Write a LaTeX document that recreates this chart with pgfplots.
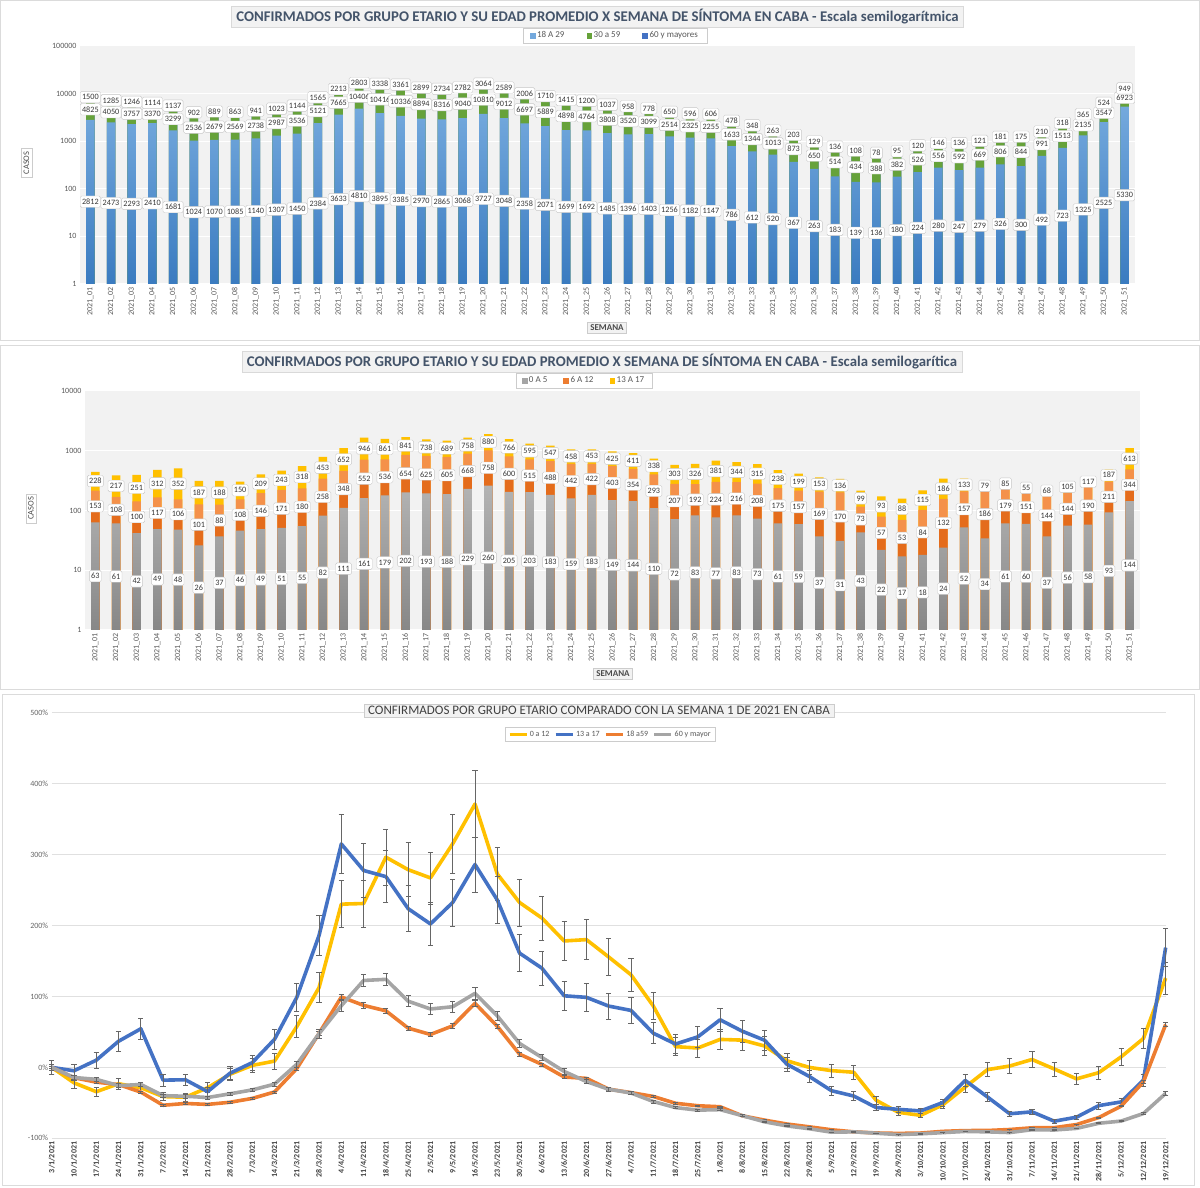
\documentclass[border=0pt]{standalone}
\usepackage{fontspec}
\setmainfont{Carlito}
\usepackage{pgfplots}
\usepackage{pgfplotstable}
\pgfplotsset{compat=1.18}

\definecolor{azulT}{HTML}{74A9DD}
\definecolor{azulB}{HTML}{3A7BC0}
\definecolor{verde}{HTML}{66A23A}
\definecolor{azul60}{HTML}{4472C4}
\definecolor{grisT}{HTML}{B3B3B3}
\definecolor{grisB}{HTML}{878787}
\definecolor{naranjaC}{HTML}{F4914A}
\definecolor{naranjaO}{HTML}{E46C1C}
\definecolor{amarillo}{HTML}{FFC000}
\definecolor{lazul}{HTML}{4472C4}
\definecolor{lnaranja}{HTML}{ED7D31}
\definecolor{lgris}{HTML}{A5A5A5}
\definecolor{titc}{HTML}{44546A}

% semanas 2021_01 ... 2021_51: 18 A 29, 30 a 59, 60 y mayores
\pgfplotstableread{
w a b c
1 2812 4825 1500
2 2473 4050 1285
3 2293 3757 1246
4 2410 3370 1114
5 1681 3299 1137
6 1024 2536 902
7 1070 2679 889
8 1085 2569 863
9 1140 2738 941
10 1307 2987 1023
11 1450 3536 1144
12 2384 5121 1565
13 3633 7665 2213
14 4810 10406 2803
15 3895 10416 3338
16 3385 10336 3361
17 2970 8894 2899
18 2865 8316 2734
19 3068 9040 2782
20 3727 10810 3064
21 3048 9012 2589
22 2358 6697 2006
23 2071 5889 1710
24 1699 4898 1415
25 1692 4764 1200
26 1485 3808 1037
27 1396 3520 958
28 1403 3099 778
29 1256 2514 650
30 1182 2325 596
31 1147 2255 606
32 786 1633 478
33 612 1344 348
34 520 1013 263
35 367 873 203
36 263 650 129
37 183 514 136
38 139 434 108
39 136 388 78
40 180 382 95
41 224 526 120
42 280 556 146
43 247 592 136
44 279 669 121
45 326 806 181
46 300 844 175
47 492 991 210
48 723 1513 318
49 1325 2135 365
50 2525 3547 524
51 5330 6923 949
}\tabA

% 0 A 5, 6 A 12, 13 A 17
\pgfplotstableread{
w d e f
1 63 153 228
2 61 108 217
3 42 100 251
4 49 117 312
5 48 106 352
6 26 101 187
7 37 88 188
8 46 108 150
9 49 146 209
10 51 171 243
11 55 180 318
12 82 258 453
13 111 348 652
14 161 552 946
15 179 536 861
16 202 654 841
17 193 625 738
18 188 605 689
19 229 668 758
20 260 758 880
21 205 600 766
22 203 515 595
23 183 488 547
24 159 442 458
25 183 422 453
26 149 403 425
27 144 354 411
28 110 293 338
29 72 207 303
30 83 192 326
31 77 224 381
32 83 216 344
33 73 208 315
34 61 175 238
35 59 157 199
36 37 169 153
37 31 170 136
38 43 73 99
39 22 57 93
40 17 53 88
41 18 84 115
42 24 132 186
43 52 157 133
44 34 186 79
45 61 179 85
46 60 151 55
47 37 144 68
48 56 144 105
49 58 190 117
50 93 211 187
51 144 344 613
}\tabB

% variacion % frente a la semana 1 y su error
\pgfplotstableread{
w Y eY B eB O eO G eG
1 0 10.0 0 10.0 0 2.0 0 4.0
2 -21.8 7.8 -4.8 9.5 -14.6 1.7 -14.3 3.4
3 -34.3 6.6 10.1 11.0 -20.8 1.6 -16.9 3.3
4 -23.1 7.7 36.8 13.7 -24.3 1.5 -25.7 3.0
5 -28.7 7.1 54.4 15.4 -34.8 1.3 -24.2 3.0
6 -41.2 5.9 -18.0 8.2 -53.4 0.9 -39.9 2.4
7 -42.1 5.8 -17.5 8.2 -50.9 1.0 -40.7 2.4
8 -28.7 7.1 -34.2 6.6 -52.2 1.0 -42.5 2.3
9 -9.7 9.0 -8.3 9.2 -49.2 1.0 -37.3 2.5
10 2.8 10.3 6.6 10.7 -43.8 1.1 -31.8 2.7
11 8.8 10.9 39.5 13.9 -34.7 1.3 -23.7 3.1
12 57.4 15.7 98.7 19.9 -1.7 2.0 4.3 4.2
13 112.5 21.3 186.0 28.6 47.9 3.0 47.5 5.9
14 230.1 33.0 314.9 41.5 99.2 4.0 86.9 7.5
15 231.0 33.1 277.6 37.8 87.4 3.7 122.5 8.9
16 296.3 39.6 268.9 36.9 79.7 3.6 124.1 9.0
17 278.7 37.9 223.7 32.4 55.3 3.1 93.3 7.7
18 267.1 36.7 202.2 30.2 46.4 2.9 82.3 7.3
19 315.3 41.5 232.5 33.2 58.5 3.2 85.5 7.4
20 371.3 47.1 286.0 38.6 90.3 3.8 104.3 8.2
21 272.7 37.3 236.0 33.6 57.9 3.2 72.6 6.9
22 232.4 33.2 161.0 26.1 18.6 2.4 33.7 5.3
23 210.6 31.1 139.9 24.0 4.2 2.1 14.0 4.6
24 178.2 27.8 100.9 20.1 -13.6 1.7 -5.7 3.8
25 180.1 28.0 98.7 19.9 -15.5 1.7 -20.0 3.2
26 155.6 25.6 86.4 18.6 -30.7 1.4 -30.9 2.8
27 130.6 23.1 80.3 18.0 -35.6 1.3 -36.1 2.6
28 86.6 18.7 48.2 14.8 -41.0 1.2 -48.1 2.1
29 29.2 12.9 32.9 13.3 -50.6 1.0 -56.7 1.7
30 27.3 12.7 43.0 14.3 -54.1 0.9 -60.3 1.6
31 39.4 13.9 67.1 16.7 -55.5 0.9 -59.6 1.6
32 38.4 13.8 50.9 15.1 -68.3 0.6 -68.1 1.3
33 30.1 13.0 38.2 13.8 -74.4 0.5 -76.8 0.9
34 9.3 10.9 4.4 10.4 -79.9 0.4 -82.5 0.7
35 0.0 10.0 -12.7 8.7 -83.8 0.3 -86.5 0.5
36 -4.6 9.5 -32.9 6.7 -88.0 0.2 -91.4 0.3
37 -6.9 9.3 -40.4 6.0 -90.9 0.2 -90.9 0.4
38 -46.3 5.4 -56.6 4.3 -92.5 0.2 -92.8 0.3
39 -63.4 3.7 -59.2 4.1 -93.1 0.1 -94.8 0.2
40 -67.6 3.2 -61.4 3.9 -92.6 0.1 -93.7 0.3
41 -52.8 4.7 -49.6 5.0 -90.2 0.2 -92.0 0.3
42 -27.8 7.2 -18.4 8.2 -89.1 0.2 -90.3 0.4
43 -3.2 9.7 -41.7 5.8 -89.0 0.2 -90.9 0.4
44 1.9 10.2 -65.4 3.5 -87.6 0.2 -91.9 0.3
45 11.1 11.1 -62.7 3.7 -85.2 0.3 -87.9 0.5
46 -2.3 9.8 -75.9 2.4 -85.0 0.3 -88.3 0.5
47 -16.2 8.4 -70.2 3.0 -80.6 0.4 -86.0 0.6
48 -7.4 9.3 -53.9 4.6 -70.7 0.6 -78.8 0.8
49 14.8 11.5 -48.7 5.1 -54.7 0.9 -75.7 1.0
50 40.7 14.1 -18.0 8.2 -20.5 1.6 -65.1 1.4
51 125.9 22.6 168.9 26.9 60.4 3.2 -36.7 2.5
}\tabC

\tikzset{etq/.style={fill=white, draw=black!22, rounded corners=1.5pt,
  inner xsep=1.8pt, inner ysep=0pt, minimum height=11.5pt, text=black!78,
  yshift=-5.75pt, font=\fontsize{8.2}{9}\selectfont}}

\begin{document}
\begin{tikzpicture}
\useasboundingbox (0,0) rectangle (1200pt,1187pt);

% marcos de los tres paneles
\draw[black!14, line width=1pt] (0.5pt,846pt) rectangle (1199.5pt,1186.5pt);
\draw[black!14, line width=1pt] (0.5pt,497pt) rectangle (1199.5pt,841pt);
\draw[black!14, line width=1pt] (2pt,2pt) rectangle (1194pt,492pt);

% ---------- panel 1 ----------
\begin{axis}[ymode=log, ymin=1, ymax=100000,
  anchor=south west, at={(80pt,903pt)}, scale only axis, width=1055pt, height=238pt,
  xmin=0.5, xmax=51.5, clip=false,
  xtick={1,...,51},
  xticklabel={2021\_\ifnum\ticknum<9 0\fi\the\numexpr\ticknum+1\relax},
  ytick={1,10,100,1000,10000,100000},
  yticklabels={1,10,100,1000,10000,100000},
  axis line style={draw=none}, major tick length=0pt, minor tick length=0pt,
  axis background/.style={fill=black!5},
  ymajorgrids, grid style={white, line width=1pt},
  tick label style={text=black!65, font=\fontsize{8}{9}\selectfont},
  xticklabel style={rotate=90, anchor=east},
  legend style={at={(0.507,1.044)}, anchor=center, draw=black!20, fill=white,
    font=\fontsize{9}{10}\selectfont, text=black!65, legend columns=-1,
    inner xsep=7pt, inner ysep=1.5pt,
    /tikz/every even column/.append style={column sep=20pt}},
  every node near coord/.append style={etq}]
\addplot[ybar, bar width=8.5pt, bar shift=0pt, draw=none, forget plot, fill=azul60]
  table[x=w, y expr=\thisrow{a}+\thisrow{b}+\thisrow{c}]{\tabA};
\addplot[ybar, bar width=8.5pt, bar shift=0pt, draw=none, forget plot, fill=verde]
  table[x=w, y expr=\thisrow{a}+\thisrow{b}]{\tabA};
\addplot[ybar, bar width=8.5pt, bar shift=0pt, draw=none, forget plot, top color=azulT, bottom color=azulB]
  table[x=w, y=a]{\tabA};
\addplot[forget plot, draw=none, mark=none, nodes near coords, point meta=explicit symbolic]
  table[x=w, y expr={sqrt(\thisrow{a})}, meta=a]{\tabA};
\addplot[forget plot, draw=none, mark=none, nodes near coords, point meta=explicit symbolic]
  table[x=w, y expr={sqrt(\thisrow{a}*(\thisrow{a}+\thisrow{b}))}, meta=b]{\tabA};
\addplot[forget plot, draw=none, mark=none, nodes near coords, point meta=explicit symbolic]
  table[x=w, y expr={sqrt((\thisrow{a}+\thisrow{b})*(\thisrow{a}+\thisrow{b}+\thisrow{c}))}, meta=c]{\tabA};
\addlegendimage{legend image code/.code={\fill[azulT] (0pt,-2.4pt) rectangle (4.8pt,2.4pt);}}
\addlegendentry{18 A 29}
\addlegendimage{legend image code/.code={\fill[verde] (0pt,-2.4pt) rectangle (4.8pt,2.4pt);}}
\addlegendentry{30 a 59}
\addlegendimage{legend image code/.code={\fill[azul60] (0pt,-2.4pt) rectangle (4.8pt,2.4pt);}}
\addlegendentry{60 y mayores}
\end{axis}

\node[fill=black!5, draw=black!15, inner xsep=5pt, inner ysep=3pt, text=titc,
  font=\bfseries\fontsize{14.8}{16}\selectfont] at (597.5pt,1170.5pt)
  {CONFIRMADOS POR GRUPO ETARIO Y SU EDAD PROMEDIO X SEMANA DE SÍNTOMA EN CABA - Escala semilogarítmica};
\node[rotate=90, draw=black!20, fill=white, inner xsep=3pt, inner ysep=2.5pt, text=black!70,
  font=\fontsize{8.5}{9}\selectfont] at (26.5pt,1024pt) {CASOS};
\node[draw=black!20, fill=black!5, inner xsep=3pt, inner ysep=2.5pt, text=black!70,
  font=\bfseries\fontsize{9}{10}\selectfont] at (607pt,859pt) {SEMANA};

% ---------- panel 2 ----------
\begin{axis}[ymode=log, ymin=1, ymax=10000,
  anchor=south west, at={(85pt,557pt)}, scale only axis, width=1055pt, height=239pt,
  xmin=0.5, xmax=51.5, clip=false,
  xtick={1,...,51},
  xticklabel={2021\_\ifnum\ticknum<9 0\fi\the\numexpr\ticknum+1\relax},
  ytick={1,10,100,1000,10000},
  yticklabels={1,10,100,1000,10000},
  axis line style={draw=none}, major tick length=0pt, minor tick length=0pt,
  axis background/.style={fill=black!5},
  ymajorgrids, grid style={white, line width=1pt},
  tick label style={text=black!65, font=\fontsize{8}{9}\selectfont},
  xticklabel style={rotate=90, anchor=east},
  legend style={at={(0.473,1.044)}, anchor=center, draw=black!20, fill=white,
    font=\fontsize{9}{10}\selectfont, text=black!65, legend columns=-1,
    inner xsep=6pt, inner ysep=1.5pt,
    /tikz/every even column/.append style={column sep=14pt}},
  every node near coord/.append style={etq}]
\addplot[ybar, bar width=8.5pt, bar shift=0pt, draw=none, forget plot, fill=amarillo]
  table[x=w, y expr=\thisrow{d}+\thisrow{e}+\thisrow{f}]{\tabB};
\addplot[ybar, bar width=8.5pt, bar shift=0pt, draw=none, forget plot, fill=naranjaC]
  table[x=w, y expr=\thisrow{d}+\thisrow{e}]{\tabB};
\addplot[ybar, bar width=8.5pt, bar shift=0pt, draw=none, forget plot, fill=naranjaO]
  table[x=w, y expr={\thisrow{d}*((\thisrow{d}+\thisrow{e})/\thisrow{d})^0.4}]{\tabB};
\addplot[ybar, bar width=8.5pt, bar shift=0pt, draw=none, forget plot, top color=grisT, bottom color=grisB]
  table[x=w, y=d]{\tabB};
\addplot[forget plot, draw=none, mark=none, nodes near coords, point meta=explicit symbolic]
  table[x=w, y expr={sqrt(\thisrow{d})}, meta=d]{\tabB};
\addplot[forget plot, draw=none, mark=none, nodes near coords, point meta=explicit symbolic]
  table[x=w, y expr={sqrt(\thisrow{d}*(\thisrow{d}+\thisrow{e}))}, meta=e]{\tabB};
\addplot[forget plot, draw=none, mark=none, nodes near coords, point meta=explicit symbolic]
  table[x=w, y expr={sqrt((\thisrow{d}+\thisrow{e})*(\thisrow{d}+\thisrow{e}+\thisrow{f}))}, meta=f]{\tabB};
\addlegendimage{legend image code/.code={\fill[lgris] (0pt,-2.4pt) rectangle (4.8pt,2.4pt);}}
\addlegendentry{0 A 5}
\addlegendimage{legend image code/.code={\fill[lnaranja] (0pt,-2.4pt) rectangle (4.8pt,2.4pt);}}
\addlegendentry{6 A 12}
\addlegendimage{legend image code/.code={\fill[amarillo] (0pt,-2.4pt) rectangle (4.8pt,2.4pt);}}
\addlegendentry{13 A 17}
\end{axis}

\node[fill=black!5, draw=black!15, inner xsep=5pt, inner ysep=3pt, text=titc,
  font=\bfseries\fontsize{14.8}{16}\selectfont] at (602pt,825pt)
  {CONFIRMADOS POR GRUPO ETARIO Y SU EDAD PROMEDIO X SEMANA DE SÍNTOMA EN CABA - Escala semilogarítica};
\node[rotate=90, draw=black!20, fill=white, inner xsep=3pt, inner ysep=2.5pt, text=black!70,
  font=\fontsize{8.5}{9}\selectfont] at (31pt,678.5pt) {CASOS};
\node[draw=black!20, fill=black!5, inner xsep=3pt, inner ysep=2.5pt, text=black!70,
  font=\bfseries\fontsize{9}{10}\selectfont] at (613pt,513.5pt) {SEMANA};

% ---------- panel 3 ----------
\begin{axis}[anchor=south west, scale only axis, at={(51.7pt,48.7pt)},
  width=1114pt, height=425.6pt, xmin=1, xmax=51, ymin=-100, ymax=500, clip=false,
  xtick={1,...,51},
  xticklabels={3/1/2021,10/1/2021,17/1/2021,24/1/2021,31/1/2021,7/2/2021,14/2/2021,21/2/2021,28/2/2021,7/3/2021,14/3/2021,21/3/2021,28/3/2021,4/4/2021,11/4/2021,18/4/2021,25/4/2021,2/5/2021,9/5/2021,16/5/2021,23/5/2021,30/5/2021,6/6/2021,13/6/2021,20/6/2021,27/6/2021,4/7/2021,11/7/2021,18/7/2021,25/7/2021,1/8/2021,8/8/2021,15/8/2021,22/8/2021,29/8/2021,5/9/2021,12/9/2021,19/9/2021,26/9/2021,3/10/2021,10/10/2021,17/10/2021,24/10/2021,31/10/2021,7/11/2021,14/11/2021,21/11/2021,28/11/2021,5/12/2021,12/12/2021,19/12/2021},
  ytick={-100,0,100,200,300,400,500},
  yticklabels={-100\%,0\%,100\%,200\%,300\%,400\%,500\%},
  axis line style={draw=none}, major tick length=0pt,
  ymajorgrids, grid style={black!12, line width=0.8pt},
  yticklabel style={text=black!60, font=\fontsize{8}{9}\selectfont},
  xticklabel style={rotate=90, anchor=east, text=black!75, font=\bfseries\fontsize{8}{9}\selectfont},
  legend style={at={(0.5016,0.949)}, anchor=center, draw=black!20, fill=white,
    font=\fontsize{8}{9}\selectfont, text=black!65, legend columns=-1,
    inner xsep=3pt, inner ysep=1.5pt,
    /tikz/every even column/.append style={column sep=3pt}},
]
\addplot[forget plot, amarillo, line width=3.6pt, line join=round, mark=none,
  error bars/.cd, y dir=both, y explicit,
  error bar style={line width=0.7pt, black!60},
  error mark options={rotate=90, line width=0.7pt, black!60, mark size=2.6pt}]
  table[x=w, y=Y, y error=eY]{\tabC};
\addplot[forget plot, lazul, line width=3.6pt, line join=round, mark=none,
  error bars/.cd, y dir=both, y explicit,
  error bar style={line width=0.7pt, black!60},
  error mark options={rotate=90, line width=0.7pt, black!60, mark size=2.6pt}]
  table[x=w, y=B, y error=eB]{\tabC};
\addplot[forget plot, lnaranja, line width=3.6pt, line join=round, mark=none,
  error bars/.cd, y dir=both, y explicit,
  error bar style={line width=0.7pt, black!60},
  error mark options={rotate=90, line width=0.7pt, black!60, mark size=2.6pt}]
  table[x=w, y=O, y error=eO]{\tabC};
\addplot[forget plot, lgris, line width=3.6pt, line join=round, mark=none,
  error bars/.cd, y dir=both, y explicit,
  error bar style={line width=0.7pt, black!60},
  error mark options={rotate=90, line width=0.7pt, black!60, mark size=2.6pt}]
  table[x=w, y=G, y error=eG]{\tabC};
\addlegendimage{amarillo, line width=2.5pt}
\addlegendentry{0 a 12}
\addlegendimage{lazul, line width=2.5pt}
\addlegendentry{13 a 17}
\addlegendimage{lnaranja, line width=2.5pt}
\addlegendentry{18 a59}
\addlegendimage{lgris, line width=2.5pt}
\addlegendentry{60 y mayor}
\end{axis}

\node[fill=black!5, draw=black!20, inner xsep=4pt, inner ysep=2.5pt, text=black!75,
  font=\fontsize{13}{15}\selectfont] at (599pt,476.5pt)
  {CONFIRMADOS POR GRUPO ETARIO COMPARADO CON LA SEMANA 1 DE 2021 EN CABA};
\end{tikzpicture}
\end{document}
